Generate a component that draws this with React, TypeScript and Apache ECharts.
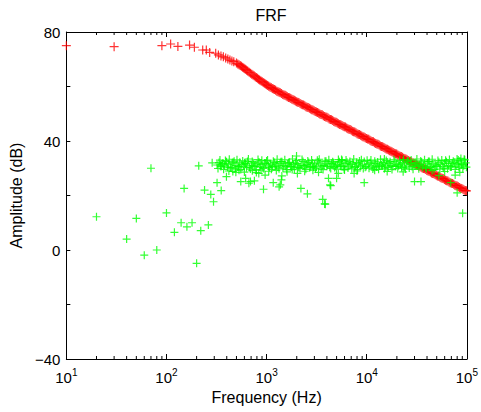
import React, { useEffect, useRef } from "react";
import * as echarts from "echarts";

// ---- data ----
const redFreq = [
  10, 30, 90, 110, 130, 170, 190, 230, 250, 270,
  310, 330, 350, 370, 390, 410, 430, 450, 470, 500,
  530, 560, 590, 620, 650, 690, 730, 770, 810, 850,
  900, 950, 1000, 1050, 1110, 1170, 1230,
  1300, 1370, 1450, 1530, 1610, 1700, 1790, 1890, 1990, 2100,
  2220, 2340, 2470, 2600, 2750, 2900, 3060, 3230, 3400, 3590,
  3790, 4000, 4220, 4450, 4690, 4950, 5220, 5510, 5810, 6130,
  6470, 6820, 7200, 7590, 8010, 8450, 8910, 9400, 9920, 10470,
  11040, 11650, 12290, 12960, 13680, 14430, 15220, 16060, 16940, 17870,
  18850, 19890, 20980, 22130, 23350, 24630, 25990, 27420, 28930, 30520,
  32190, 33960, 35830, 37800, 39880, 42070, 44380, 46820, 49400, 52110,
  54980, 58000, 61190, 64560, 68110, 71850, 75800, 79970, 84370, 89010,
  93900, 99070,
];
const redAmp = [
  75.0, 74.6, 75.0, 75.6, 74.7, 75.2, 74.4, 73.4, 73.4, 72.5,
  72.2, 71.6, 71.2, 70.9, 70.5, 70.1, 69.7, 69.4, 69.1, 68.6,
  68.0, 67.4, 66.8, 66.2, 65.6, 64.9, 64.2, 63.6, 63.0, 62.4,
  61.8, 61.2, 60.6, 60.1, 59.6, 59.1, 58.6,
  58.1, 57.7, 57.1, 56.8, 56.2, 55.9, 55.3, 55.0, 54.4, 54.1,
  53.5, 53.2, 52.6, 52.3, 51.7, 51.4, 50.8, 50.5, 49.9, 49.6,
  49.0, 48.7, 48.1, 47.8, 47.2, 46.9, 46.3, 46.0, 45.4, 45.1,
  44.5, 44.2, 43.6, 43.3, 42.7, 42.4, 41.8, 41.5, 40.9, 40.6,
  40.0, 39.7, 39.1, 38.8, 38.2, 37.9, 37.3, 37.0, 36.4, 36.1,
  35.5, 35.2, 34.6, 34.3, 33.7, 33.4, 32.8, 32.5, 31.9, 31.6,
  31.0, 30.7, 30.1, 29.8, 29.2, 28.9, 28.3, 28.0, 27.4, 27.1,
  26.5, 26.2, 25.6, 25.3, 24.7, 24.4, 23.8, 23.5, 22.9, 22.6,
  22.0, 21.7,
];

const redFreqB = [
  515, 545, 575, 605, 635, 670, 710, 750, 790, 830,
  875, 925, 975, 1025, 1080, 1140, 1200, 1265, 1335, 1410,
  1490, 1570, 1655, 1745, 1840, 1940, 2045, 2160, 2280, 2405,
  2535, 2675, 2825, 2980, 3145, 3315, 3495, 3690, 3895, 4110,
  4335, 4570, 4820, 5085, 5365, 5660, 5970, 6300, 6645, 7010,
  7395, 7800, 8230, 8680, 9155, 9660, 10195, 10755, 11345, 11970,
  12625, 13320, 14055, 14825, 15640, 16500, 17405, 18360, 19370, 20435,
  21555, 22740, 23990, 25310, 26705, 28175, 29725, 31355, 33075, 34895,
  36815, 38840, 40975, 43225, 45600, 48110, 50755, 53545, 56490, 59595,
  62875, 66335, 69980, 73825, 77885, 82170, 86690, 91455, 96485,
];
const redAmpB = [
  68.3, 67.7, 67.1, 66.5, 65.9, 65.2, 64.5, 63.9, 63.3, 62.7,
  62.1, 61.5, 60.9, 60.4, 59.8, 59.3, 58.9, 58.3, 57.9, 57.4,
  56.9, 56.5, 56.0, 55.6, 55.1, 54.7, 54.2, 53.8, 53.3, 52.9,
  52.4, 52.0, 51.5, 51.1, 50.6, 50.2, 49.7, 49.3, 48.8, 48.4,
  47.9, 47.5, 47.0, 46.6, 46.1, 45.7, 45.2, 44.8, 44.3, 43.9,
  43.4, 43.0, 42.5, 42.1, 41.6, 41.2, 40.7, 40.3, 39.8, 39.4,
  38.9, 38.5, 38.0, 37.6, 37.1, 36.7, 36.2, 35.8, 35.3, 34.9,
  34.4, 34.0, 33.5, 33.1, 32.6, 32.2, 31.7, 31.3, 30.8, 30.4,
  29.9, 29.5, 29.0, 28.6, 28.1, 27.7, 27.2, 26.8, 26.3, 25.9,
  25.4, 25.0, 24.5, 24.1, 23.6, 23.2, 22.7, 22.3, 21.8,
];

const greenFreq = [
  320, 335, 350, 365, 380, 397, 415, 434, 453, 474,
  495, 517, 540, 565, 590, 617, 644, 673, 704, 735,
  768, 803, 839, 877, 916, 957, 1000, 1045, 1092, 1141,
  1193, 1246, 1302, 1361, 1422, 1486, 1553, 1623, 1696, 1772,
  1852, 1935, 2022, 2113, 2208, 2308, 2412, 2520, 2634, 2752,
  2876, 3005, 3141, 3282, 3430, 3584, 3745, 3914, 4090, 4274,
  4466, 4667, 4877, 5097, 5326, 5566, 5816, 6078, 6351, 6637,
  6936, 7248, 7574, 7915, 8271, 8643, 9032, 9439, 9863, 10307,
  10771, 11256, 11762, 12292, 12845, 13423, 14027, 14658, 15318, 16007,
  16727, 17480, 18267, 19089, 19948, 20845, 21783, 22764, 23788, 24858,
  25977, 27146, 28368, 29644, 30978, 32372, 33829, 35351, 36942, 38604,
  40341, 42157, 44054, 46036, 48108, 50273, 52535, 54899, 57369, 59951,
  62649, 65468, 68414, 71493, 74710, 78072, 81585, 85256, 89093, 93102,
  97291,
];
const greenAmp = [
  31.2, 32.1, 30.6, 31.8, 30.9, 32.4, 31.5, 30.3, 31.9, 32.6,
  31.0, 30.5, 32.2, 31.4, 30.8, 31.7, 32.5, 30.4, 31.1, 32.0,
  30.7, 31.6, 32.3, 31.3, 30.2, 31.9, 32.7, 30.9, 31.5, 30.6,
  32.1, 31.2, 30.4, 31.8, 32.4, 31.0, 30.7, 31.6, 32.2, 30.5,
  31.3, 32.0, 31.7, 30.3, 31.1, 32.5, 30.8, 31.4, 32.1, 30.6,
  31.9, 31.2, 30.5, 32.3, 31.6, 30.9, 31.0, 32.6, 31.5, 30.4,
  31.8, 32.0, 30.7, 31.3, 32.4, 31.1, 30.6, 31.7, 32.2, 30.8,
  31.4, 31.9, 30.3, 32.1, 31.6, 30.9, 31.2, 32.5, 30.6, 31.5,
  32.0, 31.1, 30.4, 31.8, 32.3, 30.8, 31.3, 31.9, 30.5, 32.2,
  31.7, 31.0, 30.7, 32.4, 31.4, 30.9, 31.6, 32.1, 30.5, 31.2,
  32.6, 31.8, 30.6, 31.5, 32.0, 30.8, 31.3, 32.3, 31.1, 30.4,
  31.9, 32.5, 30.7, 31.6, 31.2, 30.9, 32.2, 31.4, 30.6, 31.8,
  32.4, 31.0, 30.5, 31.7, 32.1, 30.8, 31.5, 32.7, 31.3, 30.9,
  32.0,
];

const greenFreqB = [
  327, 342, 357, 372, 388, 406, 424, 443, 463, 484,
  506, 528, 552, 577, 603, 630, 658, 688, 719, 751,
  785, 821, 858, 896, 936, 978, 1022, 1068, 1116, 1167,
  1219, 1274, 1331, 1391, 1454, 1519, 1588, 1659, 1734, 1812,
  1893, 1978, 2067, 2160, 2258, 2360, 2466, 2577, 2693, 2814,
  2940, 3073, 3211, 3356, 3507, 3664, 3829, 4002, 4182, 4370,
  4566, 4772, 4987, 5211, 5446, 5691, 5947, 6214, 6494, 6786,
  7092, 7411, 7744, 8093, 8457, 8837, 9235, 9651, 10085, 10539,
  11013, 11509, 12027, 12568, 13134, 13725, 14342, 14988, 15662, 16367,
  17103, 17873, 18678, 19518, 20396, 21314, 22273, 23276, 24323, 25417,
  26561, 27757, 29006, 30311, 31675, 33100, 34590, 36146, 37773, 39472,
  41249, 43105, 45045, 47072, 49190, 51404, 53717, 56134, 58660, 61300,
  64058, 66941, 69954, 73102, 76391, 79829, 83420, 87175, 91098, 95197,
  99000,
];
const greenAmpB = [
  29.9, 33.0, 31.5, 29.6, 32.8, 30.4, 33.3, 30.1, 32.2, 29.8,
  33.1, 30.6, 29.5, 32.7, 31.9, 30.2, 33.4, 29.7, 32.5, 30.9,
  29.4, 33.2, 30.5, 32.9, 29.9, 31.8, 33.0, 30.3, 29.6, 32.6,
  30.8, 33.3, 29.8, 32.4, 30.1, 33.1, 29.5, 32.0, 30.6, 33.4,
  29.7, 32.8, 30.4, 29.9, 33.2, 31.0, 29.6, 32.7, 30.2, 33.0,
  30.5, 29.8, 32.9, 33.3, 30.0, 29.5, 32.6, 30.7, 33.1, 29.9,
  32.4, 30.3, 29.7, 33.2, 30.8, 32.8, 29.6, 33.0, 30.1, 32.5,
  29.8, 33.4, 30.6, 29.5, 32.7, 33.1, 29.9, 30.4, 32.9, 30.0,
  33.0, 29.7, 32.6, 30.5, 29.6, 33.3, 30.9, 29.8, 32.8, 30.2,
  32.4, 29.5, 33.1, 30.7, 29.9, 32.9, 30.3, 33.2, 29.7, 32.6,
  30.1, 33.0, 29.6, 30.8, 33.4, 29.8, 32.7, 30.4, 33.1, 29.9,
  32.5, 30.2, 33.3, 29.5, 30.6, 32.8, 29.7, 33.0, 30.0, 32.9,
  29.8, 33.2, 30.5, 32.6, 29.6, 33.4, 30.3, 33.6, 29.9, 33.1,
  30.4,
];

const greenOutFreq = [
  20, 40, 50, 60, 70, 80, 100, 120, 140, 150,
  160, 180, 200, 210, 220, 240, 262, 277, 286, 295,
  320, 345, 352, 397, 420, 460, 493, 530, 552, 600,
  617, 665, 690, 720, 755, 790, 835, 880, 931, 966,
  1050, 1165, 1250, 1333, 1370, 1406, 1420, 1600, 1800, 1990,
  2030, 2200, 2400, 2555, 2900, 3300, 3633, 3800, 3855, 4150,
  4300, 4370, 5000, 5200, 5600, 6000, 7480, 8000, 9440, 12000,
  15000, 16000, 23100, 30000, 34800, 45000, 52500, 60000, 69000, 76400,
  80000, 82000, 85000, 88000, 90700, 94000,
];
const greenOutAmp = [
  12.2, 4.0, 11.6, -1.9, 30.0, 0.0, 13.6, 6.5, 10.0, 22.6,
  8.5, 10.0, -4.9, 30.9, 7.1, 22.0, 9.2, 20.4, 32.0, 17.7,
  24.7, 31.2, 21.8, 26.9, 29.0, 28.8, 28.5, 29.3, 25.1, 28.6,
  26.3, 24.5, 25.1, 29.1, 25.4, 28.4, 28.1, 29.4, 22.3, 27.5,
  28.9, 24.7, 29.2, 23.2, 23.9, 25.7, 27.2, 28.7, 29.5, 34.5,
  28.1, 22.6, 28.9, 20.6, 29.3, 28.5, 18.6, 16.9, 16.8, 26.3,
  23.9, 23.6, 26.3, 28.1, 33.2, 29.4, 28.1, 29.0, 24.7, 29.3,
  33.4, 28.8, 28.7, 25.1, 25.1, 29.2, 27.3, 28.8, 24.7, 27.5,
  21.0, 33.0, 28.5, 31.6, 13.5, 33.3,
];

const minorTickFreq = [
  20, 30, 40, 50, 60, 70, 80, 90,
  200, 300, 400, 500, 600, 700, 800, 900,
  2000, 3000, 4000, 5000, 6000, 7000, 8000, 9000,
  20000, 30000, 40000, 50000, 60000, 70000, 80000, 90000,
];

const Y_MIN = -40;
const Y_MAX = 80;
const X_MIN = 10;
const X_MAX = 100000;

const FONT = "'Liberation Sans', Arial, Helvetica, sans-serif";
const PLUS = "path://M0,5L10,5M5,0L5,10";

function zip(xs: number[], ys: number[]) {
  const out: number[][] = [];
  for (let i = 0; i < Math.min(xs.length, ys.length); i++) out.push([xs[i], ys[i]]);
  return out;
}

function plusSeries(name: string, color: string, size: number, data: number[][]) {
  return {
    type: "scatter",
    name,
    clip: false,
    symbol: PLUS,
    symbolSize: size,
    itemStyle: { color, borderColor: color, borderWidth: 1.2 },
    data,
  };
}

export default function App() {
  const ref = useRef<HTMLDivElement>(null);

  useEffect(() => {
    document.body.style.margin = "0";
    if (!ref.current) return;
    const chart = echarts.init(ref.current, null, { renderer: "svg" });

    const xLabel = (v: number) => {
      const e = Math.round(Math.log10(v));
      return `{b|10}{s|${e}}`;
    };

    const option: any = {
      animation: false,
      backgroundColor: "#ffffff",
      title: {
        text: "FRF",
        left: 266,
        textAlign: "center",
        top: 2,
        textStyle: { fontFamily: FONT, fontSize: 16, fontWeight: "normal", color: "#000" },
      },
      grid: { left: 61, right: 9, top: 32, bottom: 53, containLabel: false },
      xAxis: [
        {
          type: "log",
          logBase: 10,
          min: X_MIN,
          max: X_MAX,
          position: "bottom",
          name: "Frequency (Hz)",
          nameLocation: "middle",
          nameGap: 23,
          nameTextStyle: { fontFamily: FONT, fontSize: 16, color: "#000" },
          axisLine: { show: true, onZero: false, lineStyle: { color: "#000", width: 1 } },
          axisTick: { show: true, inside: true, length: 5, lineStyle: { color: "#000" } },
          splitLine: { show: false },
          minorTick: { show: false },
          axisLabel: {
            margin: 8,
            formatter: xLabel,
            rich: {
              b: { fontFamily: FONT, fontSize: 15, color: "#000", lineHeight: 20 },
              s: { fontFamily: FONT, fontSize: 10, color: "#000", verticalAlign: "top", lineHeight: 12 },
            },
          },
        },
        {
          type: "log",
          logBase: 10,
          min: X_MIN,
          max: X_MAX,
          position: "top",
          axisLine: { show: true, onZero: false, lineStyle: { color: "#000", width: 1 } },
          axisTick: { show: true, inside: true, length: 5, lineStyle: { color: "#000" } },
          axisLabel: { show: false },
          splitLine: { show: false },
        },
      ],
      yAxis: [
        {
          type: "value",
          min: Y_MIN,
          max: Y_MAX,
          interval: 20,
          position: "left",
          name: "Amplitude (dB)",
          nameLocation: "middle",
          nameGap: 35,
          nameTextStyle: { fontFamily: FONT, fontSize: 16, color: "#000" },
          axisLine: { show: true, onZero: false, lineStyle: { color: "#000", width: 1 } },
          axisTick: { show: true, inside: true, length: 4, lineStyle: { color: "#000" } },
          splitLine: { show: false },
          axisLabel: {
            margin: 6,
            fontFamily: FONT,
            fontSize: 15,
            color: "#000",
            formatter: (v: number) => (v % 40 === 0 ? String(v).replace("-", "\u2212") : ""),
          },
        },
        {
          type: "value",
          min: Y_MIN,
          max: Y_MAX,
          interval: 20,
          position: "right",
          axisLine: { show: true, onZero: false, lineStyle: { color: "#000", width: 1 } },
          axisTick: { show: true, inside: true, length: 4, lineStyle: { color: "#000" } },
          splitLine: { show: false },
          axisLabel: { show: false },
        },
      ],
      series: [
        {
          type: "custom",
          name: "minorTicks",
          silent: true,
          clip: false,
          data: minorTickFreq.map((f) => [f, Y_MIN]),
          renderItem: (params: any, api: any) => {
            const f = api.value(0);
            const b = api.coord([f, Y_MIN]);
            const t = api.coord([f, Y_MAX]);
            const st = { stroke: "#000", lineWidth: 1 };
            return {
              type: "group",
              children: [
                { type: "line", shape: { x1: b[0], y1: b[1], x2: b[0], y2: b[1] - 3 }, style: st },
                { type: "line", shape: { x1: t[0], y1: t[1], x2: t[0], y2: t[1] + 3 }, style: st },
              ],
            };
          },
        },
        plusSeries("FRF", "#ff0000", 9, zip(redFreq, redAmp).concat(zip(redFreqB, redAmpB))),
        plusSeries("Coherence outliers", "#00ff00", 8, zip(greenOutFreq, greenOutAmp)),
        plusSeries("Coherence", "#00ff00", 8, zip(greenFreq, greenAmp).concat(zip(greenFreqB, greenAmpB))),
      ],
    };

    chart.setOption(option);
    return () => chart.dispose();
  }, []);

  return <div ref={ref} style={{ width: 481, height: 412 }} />;
}
